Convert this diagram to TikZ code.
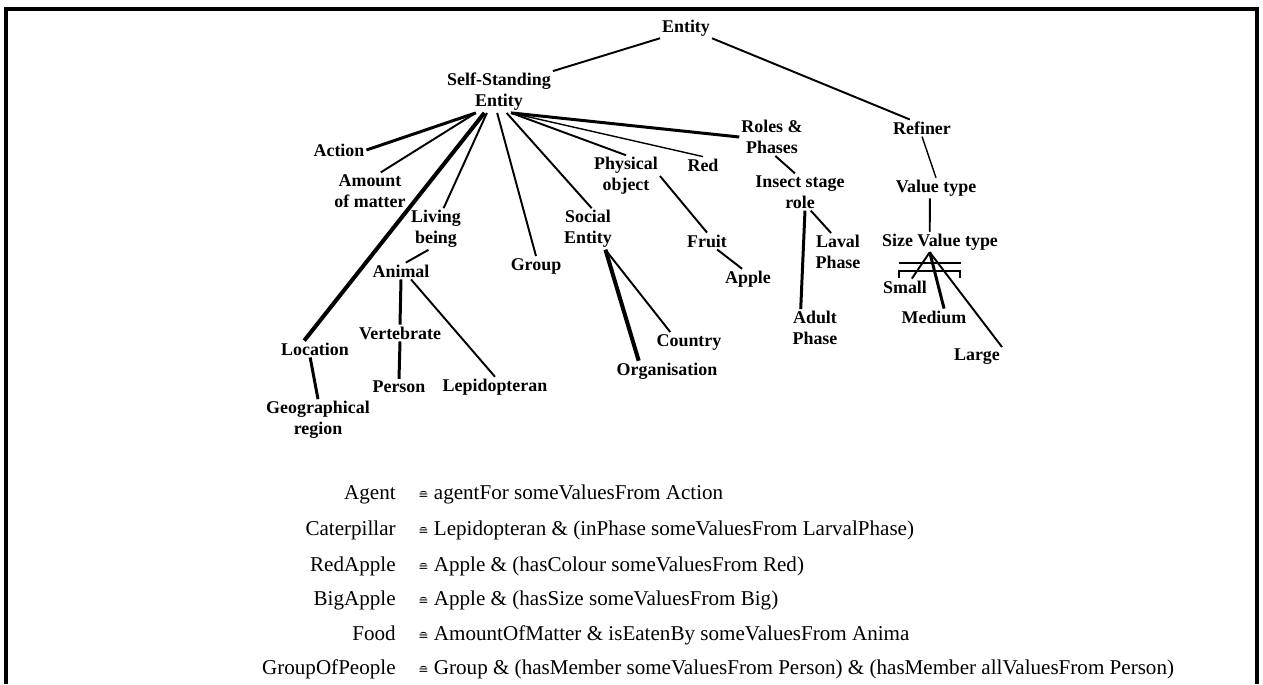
\documentclass[tikz,border=0pt]{standalone}
\usepackage{fontspec}
\setmainfont{Liberation Serif}
\newfontfamily\symfont{DejaVu Sans}
\newcommand{\corr}{{\symfont\fontsize{7}{8}\selectfont ≘}}

\begin{document}
\begin{tikzpicture}[x=0.02cm, y=-0.02cm,
  cls/.style={font=\fontsize{10.2}{12}\selectfont\bfseries, align=center, inner sep=1pt},
  defname/.style={font=\fontsize{12}{14}\selectfont, anchor=base east, inner sep=0pt},
  deftext/.style={font=\fontsize{12}{14}\selectfont, anchor=base west, inner sep=0pt},
  rel/.style={line width=1.1pt},
  relfine/.style={line width=0.8pt},
  relthick/.style={line width=1.7pt},
  relheavy/.style={line width=2.3pt}]
  \useasboundingbox (0,0) rectangle (1263,684);
  \draw[line width=2pt] (6,684) -- (6,9) -- (1257,9) -- (1257,684);

  \node[cls] (entity) at (686,28) {Entity};
  \node[cls] (sse) at (499,92) {Self-Standing\\Entity};
  \node[cls] (action) at (339,150) {Action};
  \node[cls] (amount) at (370,191) {Amount\\of matter};
  \node[cls] (living) at (436,229) {Living\\being};
  \node[cls] (animal) at (401,271) {Animal};
  \node[cls] (vertebrate) at (400,333) {Vertebrate};
  \node[cls] (person) at (399,387) {Person};
  \node[cls] (lepido) at (495,387) {Lepidopteran};
  \node[cls] (location) at (315,349) {Location};
  \node[cls] (georegion) at (318,420) {Geographical\\region};
  \node[cls] (group) at (536,266) {Group};
  \node[cls] (social) at (588,229) {Social\\Entity};
  \node[cls] (country) at (689,342) {Country};
  \node[cls] (organisation) at (667,371) {Organisation};
  \node[cls] (physical) at (626,176) {Physical\\object};
  \node[cls] (fruit) at (707,241) {Fruit};
  \node[cls] (apple) at (748,279) {Apple};
  \node[cls] (red) at (703,165) {Red};
  \node[cls] (roles) at (772,137) {Roles \&\\Phases};
  \node[cls] (insect) at (800,192) {Insect stage\\role};
  \node[cls] (laval) at (838,252) {Laval\\Phase};
  \node[cls] (adult) at (815,328) {Adult\\Phase};
  \node[cls] (refiner) at (922,128) {Refiner};
  \node[cls] (valuetype) at (936,188) {Value type};
  \node[cls] (sizevt) at (940,242) {Size Value type};
  \node[cls] (small) at (905,287) {Small};
  \node[cls] (medium) at (934,317) {Medium};
  \node[cls] (large) at (977,357) {Large};

  \draw[rel] (entity.south west) -- (sse.north east);
  \draw[rel] (entity.south east) -- (refiner.145);
  \draw[relfine] (refiner.south) -- (valuetype.north);
  \draw[rel] (valuetype.239) -- (sizevt.135);
  \draw[relthick] (sse.222) -- (action.east);
  \draw[rel] (sse.222) -- (amount.60);
  \draw[relheavy] (sse.235) -- (location.142);
  \draw[rel] (sse.240) -- (living.70);
  \draw[rel] (sse.265) -- (group.north);
  \draw[rel] (sse.290) -- (social.80);
  \draw[rel] (sse.300) -- (physical.north);
  \draw[relfine] (sse.300) -- (red.north);
  \draw[relthick] (sse.300) -- (roles.west);
  \draw[rel] (roles.280) -- (insect.105);
  \draw[rel] (physical.east) -- (fruit.north);
  \draw[rel] (fruit.-40) -- (apple.120);
  \draw[relthick] (insect.-75) -- (adult.127);
  \draw[rel] (insect.-60) -- (laval.110);
  \draw[rel] (living.250) -- (animal.60);
  \draw[relthick] (animal.south) -- (vertebrate.north);
  \draw[rel] (animal.-40) -- (lepido.north);
  \draw[relthick] (vertebrate.south) -- (person.north);
  \draw[relthick] (location.-120) -- (georegion.north);
  \draw[relheavy] (social.-50) -- (organisation.160);
  \draw[rel] (social.-50) -- (country.152);
  \draw[rel] (sizevt.225) -- (small.51);
  \draw[relthick] (sizevt.225) -- (medium.40);
  \draw[rel] (sizevt.225) -- (large.north east);
  \draw[rel] (899,263) -- (961,263);
  \draw[rel] (899,278) -- (899,271) -- (960,271) -- (960,278);

  \node[defname] (agent) at (396,499) {Agent};
  \node[deftext] (agentdef) at (418,499) {\corr\ agentFor someValuesFrom Action};
  \node[defname] (caterpillar) at (396,535) {Caterpillar};
  \node[deftext] (caterpillardef) at (418,535) {\corr\ Lepidopteran \& (inPhase someValuesFrom LarvalPhase)};
  \node[defname] (redapple) at (396,571) {RedApple};
  \node[deftext] (redappledef) at (418,571) {\corr\ Apple \& (hasColour someValuesFrom Red)};
  \node[defname] (bigapple) at (396,605) {BigApple};
  \node[deftext] (bigappledef) at (418,605) {\corr\ Apple \& (hasSize someValuesFrom Big)};
  \node[defname] (food) at (396,640) {Food};
  \node[deftext] (fooddef) at (418,640) {\corr\ AmountOfMatter \& isEatenBy someValuesFrom Anima};
  \node[defname] (people) at (396,674) {GroupOfPeople};
  \node[deftext] (peopledef) at (418,674) {\corr\ Group \& (hasMember someValuesFrom Person) \& (hasMember allValuesFrom Person)};
\end{tikzpicture}
\end{document}
